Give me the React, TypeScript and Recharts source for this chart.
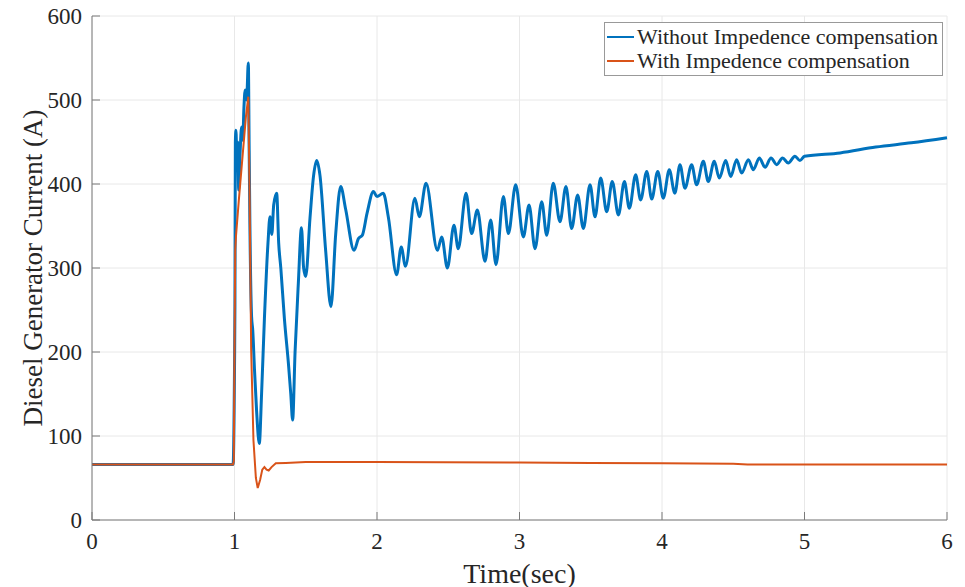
import { CartesianGrid, Legend, Line, LineChart, XAxis, YAxis } from 'recharts'

const xTicks = [0, 1, 2, 3, 4, 5, 6]
const yTicks = [0, 100, 200, 300, 400, 500, 600]

const seriesNames = ['Without Impedence compensation', 'With Impedence compensation']
const seriesColors = ['#0072BD', '#D95319']

// without compensation (blue)
const blueTime = [
  0, 0.99, 1.0, 1.003, 1.006, 1.01, 1.017, 1.022, 1.03, 1.04, 1.05, 1.058, 1.066, 1.075, 1.085, 1.097,
  1.103, 1.108, 1.12, 1.128, 1.14, 1.155, 1.174, 1.19, 1.21, 1.235, 1.249, 1.262, 1.275, 1.296, 1.31,
  1.325, 1.35, 1.38, 1.395, 1.408, 1.425, 1.448, 1.47, 1.485, 1.5, 1.53, 1.555, 1.577, 1.6, 1.64, 1.677,
  1.71, 1.745, 1.78, 1.839, 1.87, 1.897, 1.93, 1.975, 2.0, 2.044, 2.08, 2.138, 2.17, 2.2, 2.266, 2.297,
  2.344, 2.424, 2.454, 2.494, 2.54, 2.57, 2.625, 2.664, 2.704, 2.758, 2.798, 2.835, 2.887, 2.922, 2.973,
  3.027, 3.067, 3.109, 3.156, 3.191, 3.237, 3.284, 3.326, 3.366, 3.408, 3.448, 3.495, 3.53, 3.57, 3.612,
  3.651, 3.694, 3.736, 3.771, 3.815, 3.85, 3.893, 3.928, 3.97, 4.009, 4.051, 4.09, 4.126, 4.161, 4.208,
  4.243, 4.29, 4.325, 4.367, 4.402, 4.447, 4.482, 4.524, 4.559, 4.606, 4.641, 4.683, 4.723, 4.765, 4.805,
  4.846, 4.886, 4.933, 4.968, 5.0, 5.25, 5.5, 5.75, 6.0,
]
const blueCurrent = [
  66, 66, 180, 254, 449, 464, 429, 450, 393, 440, 468, 452, 490, 512, 500, 544,
  440, 353, 242, 226, 180, 130, 91, 150, 240, 330, 361, 340, 375, 389, 330,
  300, 240, 183, 150, 119, 200, 282, 348, 300, 290, 360, 410, 428, 410, 320, 254,
  340, 397, 370, 321, 335, 339, 365, 391, 385, 389, 360, 292, 325, 302, 383, 361,
  401, 321, 337, 300, 351, 323, 389, 341, 369, 308, 357, 304, 385, 341, 399,
  337, 375, 323, 379, 339, 401, 355, 397, 347, 387, 347, 399, 361, 407, 367,
  403, 363, 403, 371, 411, 381, 415, 382, 415, 383, 417, 389, 423, 395, 423,
  399, 427, 403, 427, 407, 428, 409, 429, 413, 429, 417, 431, 420, 431, 423,
  431, 425, 433, 428, 433, 437, 444, 449, 455,
]

// with compensation (orange)
const orangeTime = [
  0, 0.99, 0.995, 1.0, 1.005, 1.01, 1.03, 1.05, 1.08, 1.097, 1.105, 1.117, 1.133, 1.15, 1.163, 1.18,
  1.195, 1.21, 1.225, 1.24, 1.26, 1.29, 1.36, 1.5, 2.0, 3.0, 3.5, 4.0, 4.5, 4.6, 5.0, 6.0,
]
const orangeCurrent = [
  66, 66, 70, 200, 321, 337, 380, 420, 480, 504, 401, 202, 95, 50, 38, 48,
  60, 63, 60, 59, 63, 67.5, 68, 69, 69, 68.5, 68, 67.5, 67, 66, 66, 66,
]

const blueData = blueTime.map((t, i) => ({ t, v: blueCurrent[i] }))
const orangeData = orangeTime.map((t, i) => ({ t, v: orangeCurrent[i] }))

const font = '"Liberation Serif", "Times New Roman", serif'
const axisColor = '#7a7a7a'
const textColor = '#262626'

const tickStyle = { fill: textColor, fontSize: 23, fontFamily: font }
const lineStyle = { stroke: axisColor }

function LegendBox() {
  return (
    <div
      style={{
        background: '#fff',
        border: '1px solid #999',
        padding: '2px 4px 2px 2px',
        fontFamily: font,
        fontSize: 22,
        color: textColor,
        lineHeight: '24px',
        whiteSpace: 'nowrap',
      }}
    >
      {seriesNames.map((name, i) => (
        <div key={name} style={{ display: 'flex', alignItems: 'center' }}>
          <span
            style={{
              display: 'inline-block',
              width: 27,
              height: 2,
              background: seriesColors[i],
              marginRight: 3,
            }}
          />
          {name}
        </div>
      ))}
    </div>
  )
}

export default function App() {
  return (
    <div
      style={{
        position: 'absolute',
        left: 0,
        top: 0,
        width: 965,
        height: 587,
        background: '#fff',
        fontFamily: font,
        fontSize: 23,
        color: textColor,
      }}
    >
      <LineChart
        width={965}
        height={587}
        margin={{ top: 16, right: 18, left: 0, bottom: 0 }}
        style={{ fontFamily: font, fontSize: 23 }}
      >
        <CartesianGrid stroke="#e8e8e8" />
        <XAxis
          type="number"
          dataKey="t"
          domain={[0, 6]}
          ticks={xTicks}
          height={67}
          tickSize={-8}
          tickMargin={21}
          axisLine={lineStyle}
          tickLine={lineStyle}
          tick={tickStyle}
          fontSize={23}
          fontFamily={font}
          label={({ viewBox }: any) => (
            <text
              x={viewBox.x + viewBox.width / 2}
              y={573}
              textAnchor="middle"
              dominantBaseline="central"
              fill={textColor}
              fontSize={28}
              fontFamily={font}
            >
              Time(sec)
            </text>
          )}
        />
        <XAxis
          xAxisId="top"
          orientation="top"
          type="number"
          domain={[0, 6]}
          ticks={xTicks}
          height={0}
          tickSize={-8}
          tick={false}
          axisLine={lineStyle}
          tickLine={lineStyle}
        />
        <YAxis
          type="number"
          domain={[0, 600]}
          ticks={yTicks}
          width={92}
          tickSize={-8}
          tickMargin={18}
          axisLine={lineStyle}
          tickLine={lineStyle}
          tick={tickStyle}
          fontSize={23}
          fontFamily={font}
          label={({ viewBox }: any) => (
            <text
              x={33}
              y={viewBox.y + viewBox.height / 2}
              transform={`rotate(-90 33 ${viewBox.y + viewBox.height / 2})`}
              textAnchor="middle"
              dominantBaseline="central"
              fill={textColor}
              fontSize={27}
              fontFamily={font}
            >
              Diesel Generator Current (A)
            </text>
          )}
        />
        <YAxis
          yAxisId="right"
          orientation="right"
          type="number"
          domain={[0, 600]}
          ticks={yTicks}
          width={0}
          tickSize={-8}
          tick={false}
          axisLine={lineStyle}
          tickLine={lineStyle}
        />
        <Legend
          layout="vertical"
          align="center"
          verticalAlign="middle"
          wrapperStyle={{ position: 'absolute', left: 604, top: 22, width: 'auto' }}
          content={() => <LegendBox />}
        />
        <Line
          data={blueData}
          dataKey="v"
          name={seriesNames[0]}
          type="monotone"
          stroke={seriesColors[0]}
          strokeWidth={3}
          dot={false}
          isAnimationActive={false}
        />
        <Line
          data={orangeData}
          dataKey="v"
          name={seriesNames[1]}
          type="linear"
          stroke={seriesColors[1]}
          strokeWidth={2}
          dot={false}
          isAnimationActive={false}
        />
      </LineChart>
    </div>
  )
}
